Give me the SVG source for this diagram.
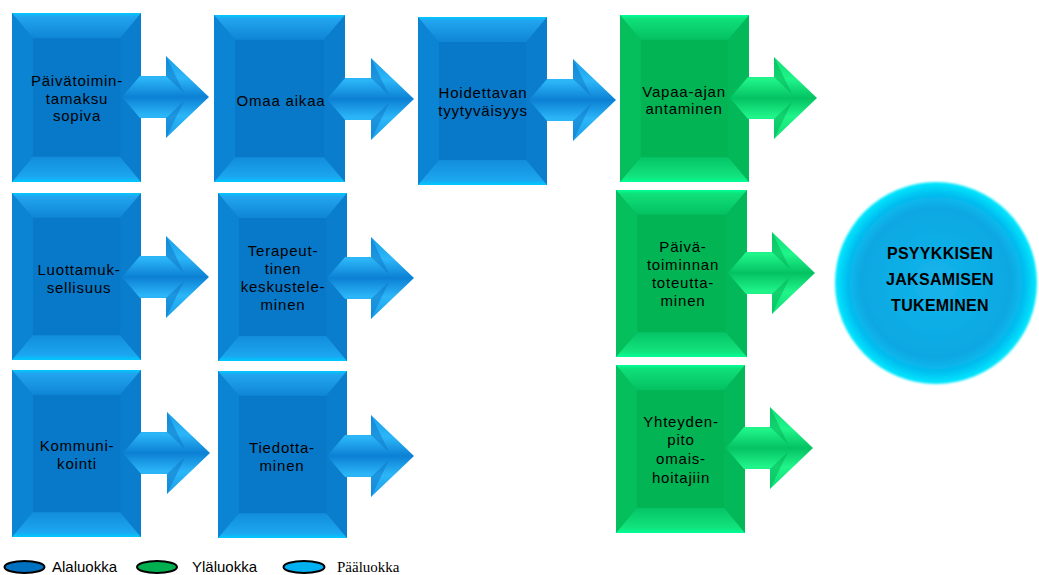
<svg xmlns="http://www.w3.org/2000/svg" xmlns:xlink="http://www.w3.org/1999/xlink" width="1039" height="575" viewBox="0 0 1039 575">
  <style>
    .lbl { font-family: "Liberation Sans", Arial, sans-serif; font-size: 15px; letter-spacing: 0.8px; fill: #000; text-anchor: middle; }
    .core { font-family: "Liberation Sans", Arial, sans-serif; font-size: 16px; font-weight: bold; fill: #000; text-anchor: middle; letter-spacing: 0.3px; }
    .leg { font-family: "Liberation Sans", Arial, sans-serif; font-size: 15px; fill: #000; }
    .legSerif { font-family: "Liberation Serif", "Times New Roman", serif; font-size: 15px; fill: #000; }
    .key { stroke: #000; stroke-width: 2; }
  </style>
  <defs>
    <!-- bevel gradients -->
    <linearGradient id="bTop" x1="0" y1="0" x2="0" y2="1">
      <stop offset="0" stop-color="#00c8ff"/>
      <stop offset="0.15" stop-color="#22a4ee"/>
      <stop offset="1" stop-color="#0f86d6"/>
    </linearGradient>
    <linearGradient id="bBot" x1="0" y1="1" x2="0" y2="0">
      <stop offset="0" stop-color="#00c8ff"/>
      <stop offset="0.2" stop-color="#1ca6f0"/>
      <stop offset="1" stop-color="#128ddc"/>
    </linearGradient>
    <linearGradient id="gTop" x1="0" y1="0" x2="0" y2="1">
      <stop offset="0" stop-color="#00ff96"/>
      <stop offset="0.15" stop-color="#10e07a"/>
      <stop offset="1" stop-color="#04c060"/>
    </linearGradient>
    <linearGradient id="gBot" x1="0" y1="1" x2="0" y2="0">
      <stop offset="0" stop-color="#00ff96"/>
      <stop offset="0.2" stop-color="#12e47e"/>
      <stop offset="1" stop-color="#06c466"/>
    </linearGradient>
    <!-- arrow gradients -->
    <linearGradient id="aBlue" x1="0" y1="0" x2="0" y2="1">
      <stop offset="0" stop-color="#1a9ee8"/>
      <stop offset="0.27" stop-color="#2cb6f8"/>
      <stop offset="0.5" stop-color="#0c80d4"/>
      <stop offset="0.73" stop-color="#2cb6f8"/>
      <stop offset="1" stop-color="#1a9ee8"/>
    </linearGradient>
    <linearGradient id="aGreen" x1="0" y1="0" x2="0" y2="1">
      <stop offset="0" stop-color="#10dc74"/>
      <stop offset="0.27" stop-color="#20f58a"/>
      <stop offset="0.5" stop-color="#04c262"/>
      <stop offset="0.73" stop-color="#20f58a"/>
      <stop offset="1" stop-color="#10dc74"/>
    </linearGradient>
    <radialGradient id="orb" cx="0.5" cy="0.5" r="0.5">
      <stop offset="0" stop-color="#14b4ea"/>
      <stop offset="0.75" stop-color="#0ca8e2"/>
      <stop offset="0.88" stop-color="#05bdf0"/>
      <stop offset="1" stop-color="#00eaff"/>
    </radialGradient>
    <filter id="soft" x="-10%" y="-10%" width="120%" height="120%">
      <feGaussianBlur stdDeviation="1.2"/>
    </filter>

    <!-- bevelled blocks -->
    <symbol id="blockBlue" viewBox="0 0 130 168" preserveAspectRatio="none">
      <rect x="0" y="0" width="130" height="168" fill="#0878c8"/>
      <polygon points="0,0 21,25 21,143 0,168" fill="#0c84d4"/>
      <polygon points="130,0 109,25 109,143 130,168" fill="#0a7dcc"/>
      <polygon points="0,0 130,0 109,25 21,25" fill="url(#bTop)"/>
      <polygon points="0,168 130,168 109,143 21,143" fill="url(#bBot)"/>
    </symbol>
    <symbol id="blockGreen" viewBox="0 0 130 168" preserveAspectRatio="none">
      <rect x="0" y="0" width="130" height="168" fill="#02b454"/>
      <polygon points="0,0 21,25 21,143 0,168" fill="#04bf5c"/>
      <polygon points="130,0 109,25 109,143 130,168" fill="#03b858"/>
      <polygon points="0,0 130,0 109,25 21,25" fill="url(#gTop)"/>
      <polygon points="0,168 130,168 109,143 21,143" fill="url(#gBot)"/>
    </symbol>

    <!-- block arrow, origin at the tail point -->
    <path id="arrowShape" d="M0,0 L18,-21 L44,-21 L44,-41 L87,0 L44,41 L44,21 L18,21 Z"/>
    <g id="arrowBlue">
      <use xlink:href="#arrowShape" fill="url(#aBlue)"/>
      <polygon points="44,-41 62,-4 44,-21" fill="#0a6fc0" opacity="0.45"/>
      <polygon points="44,41 62,4 44,21" fill="#0a6fc0" opacity="0.45"/>
    </g>
    <g id="arrowGreen">
      <use xlink:href="#arrowShape" fill="url(#aGreen)"/>
      <polygon points="44,-41 62,-4 44,-21" fill="#02a850" opacity="0.45"/>
      <polygon points="44,41 62,4 44,21" fill="#02a850" opacity="0.45"/>
    </g>
  </defs>

  <rect width="1039" height="575" fill="#fff"/>

  <!-- blocks -->
  <g id="node-paivatoimintamaksu">
    <use xlink:href="#blockBlue" x="12" y="13" width="129" height="169"/>
    <text class="lbl" x="77" y="86">Päivätoimin-</text>
    <text class="lbl" x="77" y="104">tamaksu</text>
    <text class="lbl" x="77" y="121">sopiva</text>
  </g>
  <g id="node-omaa-aikaa">
    <use xlink:href="#blockBlue" x="214" y="15" width="131" height="167"/>
    <text class="lbl" x="281" y="106">Omaa aikaa</text>
  </g>
  <g id="node-hoidettavan">
    <use xlink:href="#blockBlue" x="418" y="17" width="129" height="168"/>
    <text class="lbl" x="483" y="98">Hoidettavan</text>
    <text class="lbl" x="483" y="116">tyytyväisyys</text>
  </g>
  <g id="node-vapaa-ajan">
    <use xlink:href="#blockGreen" x="620" y="15" width="129" height="167"/>
    <text class="lbl" x="684" y="97">Vapaa-ajan</text>
    <text class="lbl" x="684" y="114">antaminen</text>
  </g>
  <g id="node-luottamuksellisuus">
    <use xlink:href="#blockBlue" x="12" y="193" width="129" height="167"/>
    <text class="lbl" x="79" y="275">Luottamuk-</text>
    <text class="lbl" x="79" y="293">sellisuus</text>
  </g>
  <g id="node-terapeuttinen">
    <use xlink:href="#blockBlue" x="218" y="193" width="129" height="168"/>
    <text class="lbl" x="283" y="256">Terapeut-</text>
    <text class="lbl" x="283" y="274">tinen</text>
    <text class="lbl" x="283" y="292">keskustele-</text>
    <text class="lbl" x="283" y="310">minen</text>
  </g>
  <g id="node-paivatoiminnan">
    <use xlink:href="#blockGreen" x="616" y="190" width="131" height="167"/>
    <text class="lbl" x="683" y="252">Päivä-</text>
    <text class="lbl" x="683" y="270">toiminnan</text>
    <text class="lbl" x="683" y="288">toteutta-</text>
    <text class="lbl" x="683" y="306">minen</text>
  </g>
  <g id="node-kommunikointi">
    <use xlink:href="#blockBlue" x="12" y="370" width="129" height="167"/>
    <text class="lbl" x="77" y="451">Kommuni-</text>
    <text class="lbl" x="77" y="469">kointi</text>
  </g>
  <g id="node-tiedottaminen">
    <use xlink:href="#blockBlue" x="218" y="371" width="129" height="167"/>
    <text class="lbl" x="282" y="453">Tiedotta-</text>
    <text class="lbl" x="282" y="471">minen</text>
  </g>
  <g id="node-yhteydenpito">
    <use xlink:href="#blockGreen" x="616" y="365" width="129" height="168"/>
    <text class="lbl" x="681" y="427">Yhteyden-</text>
    <text class="lbl" x="681" y="445">pito</text>
    <text class="lbl" x="681" y="464">omais-</text>
    <text class="lbl" x="681" y="483">hoitajiin</text>
  </g>

  <!-- goal -->
  <g id="node-psyykkinen-jaksaminen">
    <circle cx="936" cy="283" r="101" fill="url(#orb)" filter="url(#soft)"/>
    <text class="core" x="940" y="259">PSYYKKISEN</text>
    <text class="core" x="940" y="285">JAKSAMISEN</text>
    <text class="core" x="940" y="311">TUKEMINEN</text>
  </g>

  <!-- connectors -->
  <g id="connectors">
    <use xlink:href="#arrowBlue" transform="translate(122,97)"/>
    <use xlink:href="#arrowBlue" transform="translate(327,99)"/>
    <use xlink:href="#arrowBlue" transform="translate(529,100)"/>
    <use xlink:href="#arrowGreen" transform="translate(730,98)"/>
    <use xlink:href="#arrowBlue" transform="translate(122,277)"/>
    <use xlink:href="#arrowBlue" transform="translate(327,278)"/>
    <use xlink:href="#arrowGreen" transform="translate(728,273)"/>
    <use xlink:href="#arrowBlue" transform="translate(123,453)"/>
    <use xlink:href="#arrowBlue" transform="translate(327,456)"/>
    <use xlink:href="#arrowGreen" transform="translate(726,448)"/>
  </g>

  <!-- legend -->
  <g id="legend">
    <ellipse class="key" cx="24.5" cy="567" rx="20" ry="6" fill="#0070c0"/>
    <text class="leg" x="52" y="572">Alaluokka</text>
    <ellipse class="key" cx="157" cy="567" rx="20" ry="6" fill="#00b050"/>
    <text class="leg" x="192" y="572">Yläluokka</text>
    <ellipse class="key" cx="304" cy="567" rx="20.5" ry="6" fill="#00b0f0"/>
    <text class="legSerif" x="337" y="572">Pääluokka</text>
  </g>
</svg>
